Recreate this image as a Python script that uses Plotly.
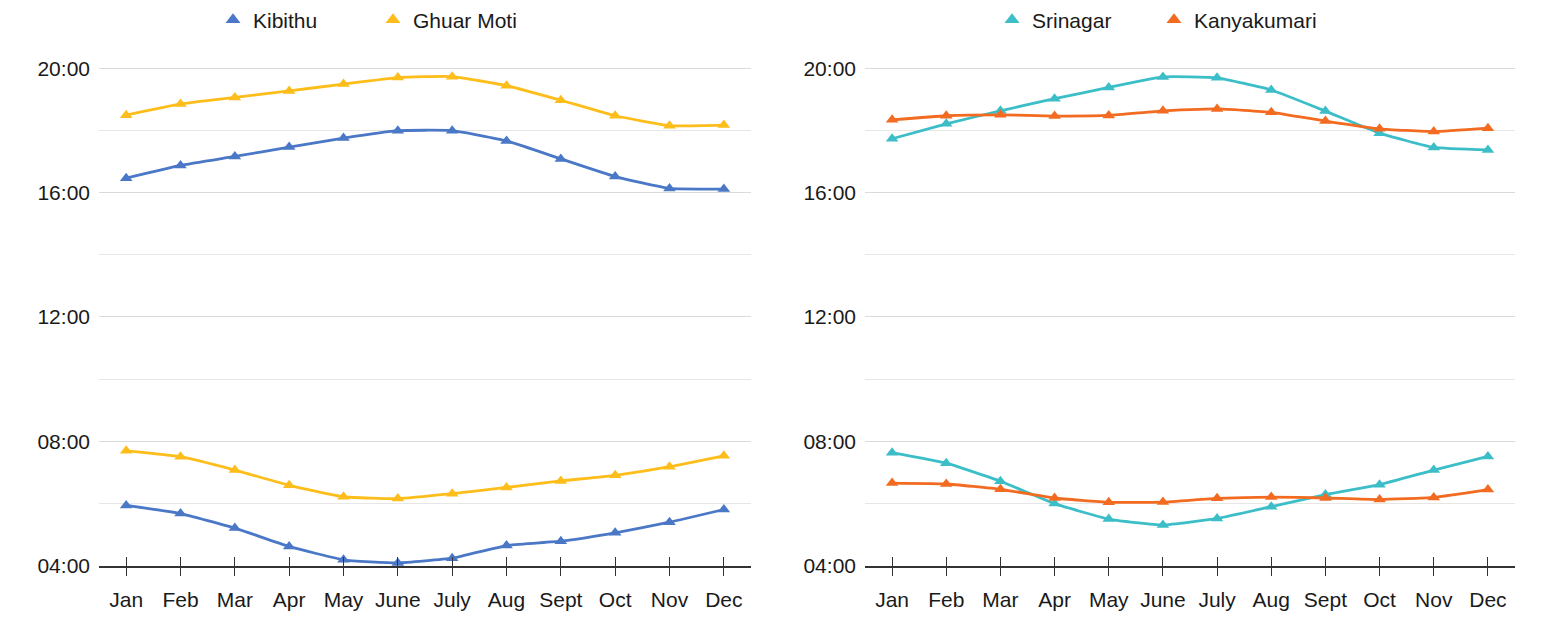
import plotly.graph_objects as go

months = ["Jan", "Feb", "Mar", "Apr", "May", "June", "July", "Aug", "Sept", "Oct", "Nov", "Dec"]
month_idx = list(range(len(months)))

# hours as decimal (sunrise / sunset)
kibithu_sunset = [16.47, 16.88, 17.17, 17.47, 17.76, 18.00, 18.00, 17.67, 17.09, 16.52, 16.14, 16.12]
kibithu_sunrise = [5.93, 5.67, 5.20, 4.61, 4.18, 4.08, 4.23, 4.64, 4.78, 5.05, 5.39, 5.80]
ghuar_sunset = [18.50, 18.86, 19.07, 19.28, 19.50, 19.71, 19.74, 19.45, 18.98, 18.48, 18.16, 18.18]
ghuar_sunrise = [7.69, 7.50, 7.07, 6.58, 6.21, 6.15, 6.31, 6.51, 6.72, 6.90, 7.18, 7.53]

srinagar_sunset = [17.74, 18.22, 18.64, 19.03, 19.39, 19.73, 19.70, 19.31, 18.63, 17.92, 17.46, 17.38]
srinagar_sunrise = [7.63, 7.29, 6.71, 5.99, 5.49, 5.30, 5.51, 5.89, 6.28, 6.60, 7.07, 7.51]
kanya_sunset = [18.35, 18.48, 18.51, 18.47, 18.49, 18.64, 18.70, 18.59, 18.31, 18.06, 17.97, 18.08]
kanya_sunrise = [6.65, 6.62, 6.45, 6.17, 6.03, 6.04, 6.16, 6.20, 6.17, 6.12, 6.19, 6.44]

y_tickvals = [4, 8, 12, 16, 20]
y_ticktext = ["04:00", "08:00", "12:00", "16:00", "20:00"]

C_KIB = "#4A78C6"
C_GHU = "#FDBD1A"
C_SRI = "#3CBEC8"
C_KAN = "#F26B21"

FONT = "Liberation Sans, Arial, sans-serif"
W, H = 1547, 634

fig = go.Figure()


def add_line(y, color, xa, ya):
    fig.add_trace(go.Scatter(
        x=month_idx, y=y, mode="lines+markers",
        line=dict(color=color, width=2.8, shape="spline", smoothing=0.4),
        marker=dict(symbol="triangle-up", size=11, color=color),
        xaxis=xa, yaxis=ya, showlegend=False, hoverinfo="skip",
    ))


def add_legend(name, color, xa, ya, legend):
    fig.add_trace(go.Scatter(
        x=[None], y=[None], mode="markers", name=name,
        marker=dict(symbol="triangle-up", size=13, color=color),
        xaxis=xa, yaxis=ya, legend=legend, showlegend=True,
    ))


add_line(kibithu_sunset, C_KIB, "x", "y")
add_line(ghuar_sunset, C_GHU, "x", "y")
add_line(kibithu_sunrise, C_KIB, "x", "y")
add_line(ghuar_sunrise, C_GHU, "x", "y")
add_line(srinagar_sunset, C_SRI, "x2", "y2")
add_line(kanya_sunset, C_KAN, "x2", "y2")
add_line(srinagar_sunrise, C_SRI, "x2", "y2")
add_line(kanya_sunrise, C_KAN, "x2", "y2")

add_legend("Kibithu", C_KIB, "x", "y", "legend")
add_legend("Ghuar Moti", C_GHU, "x", "y", "legend2")
add_legend("Srinagar", C_SRI, "x2", "y2", "legend3")
add_legend("Kanyakumari", C_KAN, "x2", "y2", "legend4")

ydom = [1 - 566 / H, 1 - 67 / H]

xcommon = dict(
    range=[-0.5, 11.5], tickmode="array", tickvals=month_idx, ticktext=months,
    ticks="outside", ticklen=8, tickwidth=1.3, tickcolor="#333333",
    showline=True, linecolor="#333333", linewidth=2,
    showgrid=False, zeroline=False, automargin=False,
    tickfont=dict(family=FONT, size=21, color="#1a1a1a"), ticklabelstandoff=6,
    minor=dict(ticks="inside", ticklen=9, tickwidth=1.3, tickcolor="#333333",
               tickmode="array", tickvals=month_idx, showgrid=False),
    fixedrange=True,
)
ycommon = dict(
    range=[3.98, 20.05], domain=ydom, tickmode="array", tickvals=y_tickvals, ticktext=y_ticktext,
    showgrid=True, gridcolor="#DADADA", gridwidth=1, zeroline=False, showline=False,
    ticks="", tickfont=dict(family=FONT, size=21, color="#1a1a1a"), ticklabelstandoff=8,
    minor=dict(tickmode="linear", tick0=4, dtick=2, showgrid=True, gridcolor="#E6E6E6", gridwidth=1, ticks=""),
    automargin=False, fixedrange=True,
)


def leg(xpx):
    return dict(orientation="h", xref="container", yref="container",
                x=(xpx - 20) / W, xanchor="left", y=1 - 20 / H, yanchor="middle",
                font=dict(family=FONT, size=21, color="#1a1a1a"), itemwidth=30,
                bgcolor="rgba(0,0,0,0)", borderwidth=0)


fig.update_layout(
    width=W, height=H,
    margin=dict(l=0, r=0, t=0, b=0, autoexpand=False),
    paper_bgcolor="white", plot_bgcolor="white",
    xaxis=dict(domain=[99 / W, 751 / W], anchor="y", **xcommon),
    yaxis=dict(anchor="x", **ycommon),
    xaxis2=dict(domain=[865 / W, 1515 / W], anchor="y2", **xcommon),
    yaxis2=dict(anchor="x2", **ycommon),
    legend=leg(233),
    legend2=leg(393),
    legend3=leg(1012),
    legend4=leg(1174),
    showlegend=True,
)

fig.write_html("out.html")
